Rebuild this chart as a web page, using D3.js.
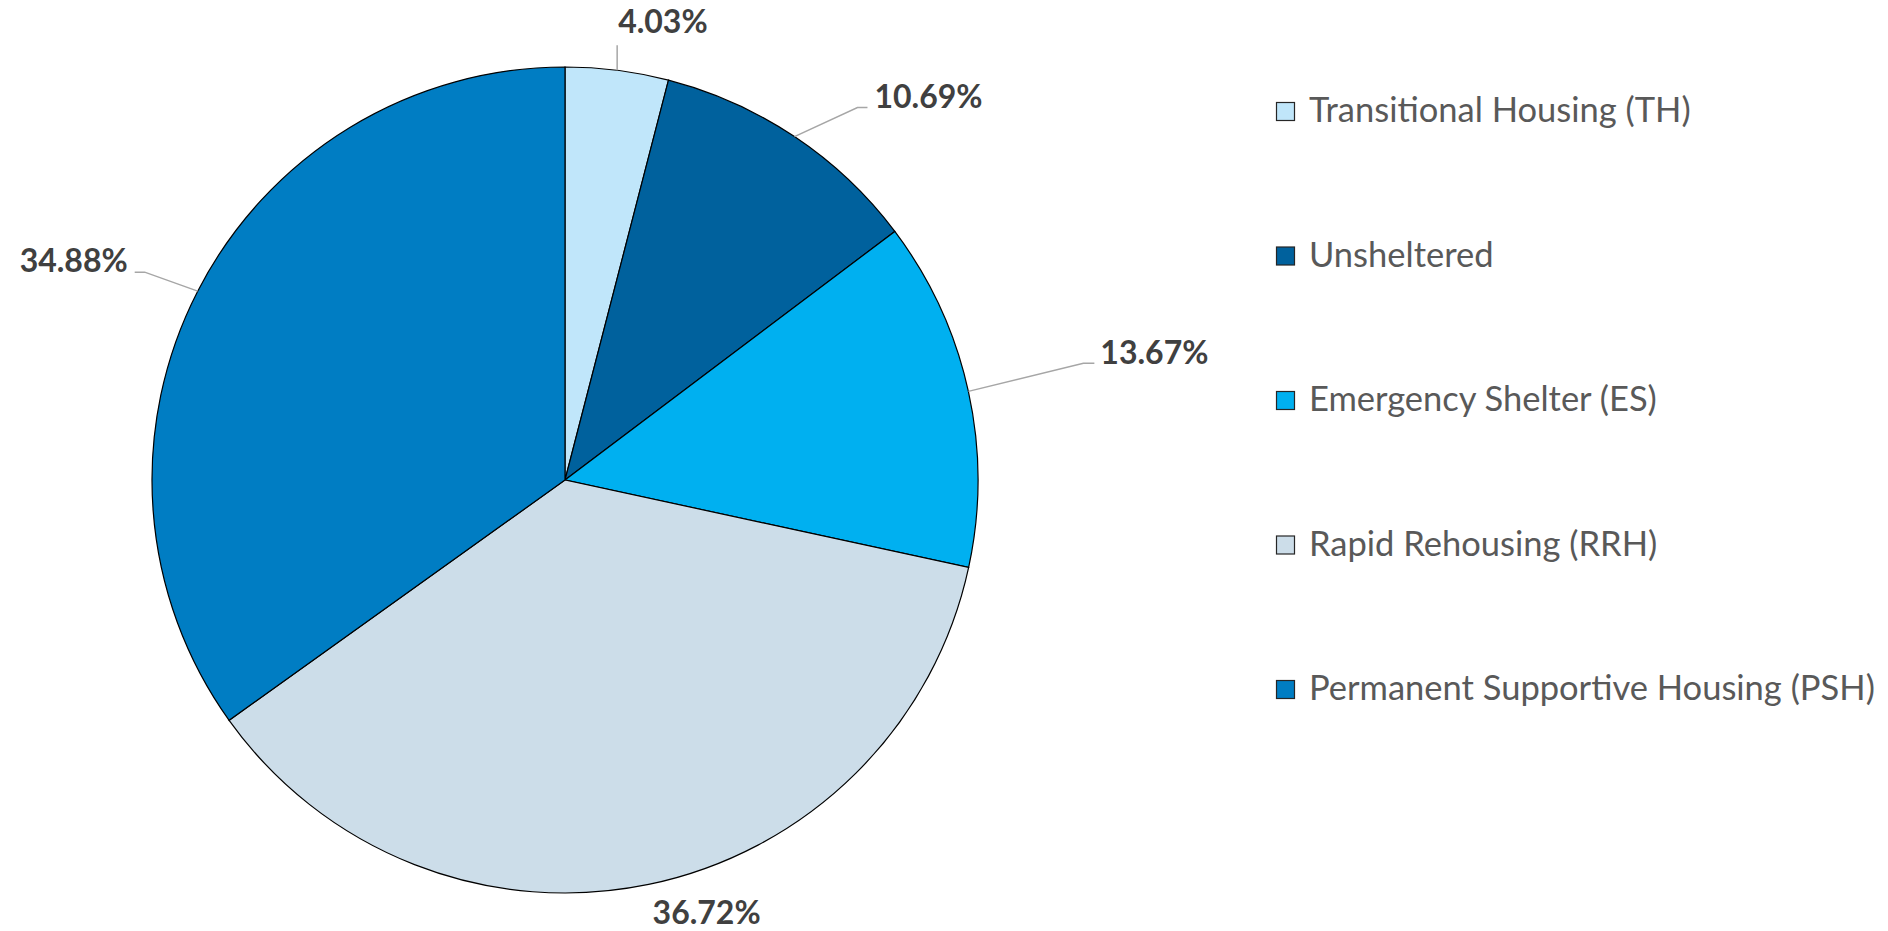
<!DOCTYPE html>
<html>
<head>
<meta charset="utf-8">
<script src="https://cdn.jsdelivr.net/npm/d3@7"></script>
<style>
  body { margin: 0; background: #fff; }
  svg { display: block; }
</style>
</head>
<body>
<script>
// data
let categories = ["Transitional Housing (TH)", "Unsheltered", "Emergency Shelter (ES)", "Rapid Rehousing (RRH)", "Permanent Supportive Housing (PSH)"];
let shares = [4.03, 10.69, 13.67, 36.72, 34.88];
let colors = ["#C0E6FA", "#00619D", "#00B0F0", "#CCDDE9", "#007DC3"];

// label placement, offsets from where the leader leaves the pie
// [elbow dx, elbow dy, line end dx, text dx, text dy, anchor]
let labelLayout = [
    [0, -25, 0, 1, -37, "start"],
    [63, -29, 73, 80, -29, "start"],
    [115, -28, 126, 132, -27, "start"],
    [0, 0, 0, 58, 40, "middle"],
    [-53, -19, -63, -70, -19, "end"]
];

let width = 1888, height = 931;
let cx = 565, cy = 480, radius = 413;

let svg = d3.select("body")
    .append("svg")
    .attr("width", width)
    .attr("height", height);

let pie = d3.pie().sort(null).value(function (d) { return d; });
let arcs = pie(shares);

let arc = d3.arc().innerRadius(0).outerRadius(radius);
let edge = d3.arc().innerRadius(radius).outerRadius(radius);

let g = svg.append("g")
    .attr("transform", "translate(" + cx + "," + cy + ")");

g.selectAll("path.slice")
    .data(arcs)
    .enter().append("path")
    .attr("class", "slice")
    .attr("d", arc)
    .style("fill", function (d, i) { return colors[i]; })
    .style("stroke", "#000")
    .style("stroke-width", 1.2);

// leader lines (the big bottom slice has none)
g.selectAll("path.leader")
    .data(arcs)
    .enter().append("path")
    .filter(function (d, i) { return !(labelLayout[i][0] === 0 && labelLayout[i][1] === 0); })
    .attr("class", "leader")
    .attr("d", function (d) {
        let i = arcs.indexOf(d);
        let p = edge.centroid(d), L = labelLayout[i];
        let e = [p[0] + L[0], p[1] + L[1]];
        return "M" + p[0] + "," + p[1] + "L" + e[0] + "," + e[1] + "L" + (p[0] + L[2]) + "," + e[1];
    })
    .style("fill", "none")
    .style("stroke", "#A6A6A6")
    .style("stroke-width", 1.5);

g.selectAll("text.pct")
    .data(arcs)
    .enter().append("text")
    .attr("class", "pct")
    .attr("x", function (d, i) { return edge.centroid(d)[0] + labelLayout[i][3]; })
    .attr("y", function (d, i) { return edge.centroid(d)[1] + labelLayout[i][4]; })
    .attr("text-anchor", function (d, i) { return labelLayout[i][5]; })
    .style("font-family", "Lato, 'Open Sans', sans-serif")
    .style("font-weight", "bold")
    .style("font-size", "32px")
    .style("fill", "#404040")
    .text(function (d) { return d.data.toFixed(2) + "%"; });

// legend
let legendY = d3.scalePoint()
    .domain(categories)
    .range([122, 700]);

let legend = svg.append("g").attr("class", "legend");
let item = legend.selectAll("g")
    .data(categories)
    .enter().append("g")
    .attr("transform", function (d) { return "translate(1276," + legendY(d) + ")"; });

item.append("rect")
    .attr("x", 0.5)
    .attr("y", -19.5)
    .attr("width", 18)
    .attr("height", 18)
    .style("fill", function (d, i) { return colors[i]; })
    .style("stroke", "#262626")
    .style("stroke-width", 1.2);

item.append("text")
    .attr("x", 33)
    .attr("y", 0)
    .style("font-family", "Lato, 'Open Sans', sans-serif")
    .style("font-size", "34.5px")
    .style("fill", "#595959")
    .text(function (d) { return d; });
</script>
</body>
</html>
